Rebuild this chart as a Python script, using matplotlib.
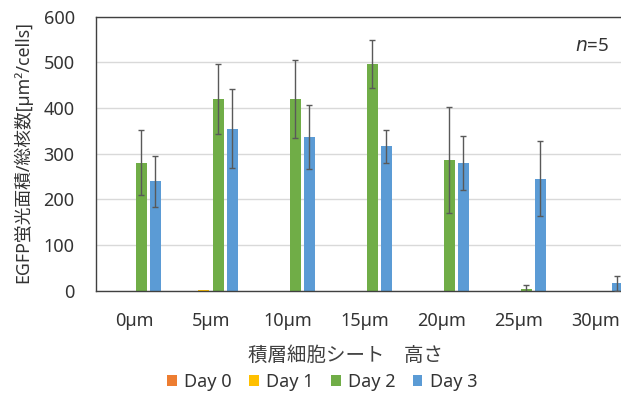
import numpy as np
import matplotlib
matplotlib.use("Agg")
import matplotlib.pyplot as plt
from matplotlib.patches import Patch

plt.rcParams['font.family'] = ['Noto Sans', 'Noto Sans CJK JP', 'DejaVu Sans']

# data
heights = ["0µm", "5µm", "10µm", "15µm", "20µm", "25µm", "30µm"]
series = ["Day 0", "Day 1", "Day 2", "Day 3"]
day0 = [0, 0, 0, 0, 0, 0, 0]
day1 = [0, 1, 0, 0, 0, 0, 0]
day2 = [280, 420, 420, 496, 286, 5, 0]
day3 = [240, 355, 336, 316, 279, 245, 16]
day0_err = [0, 0, 0, 0, 0, 0, 0]
day1_err = [0, 0, 0, 0, 0, 0, 0]
day2_err = [71, 77, 85, 52, 116, 8, 0]
day3_err = [56, 86, 70, 37, 59, 82, 17]
colors = ["#ED7D31", "#FFC000", "#70AD47", "#5B9BD5"]

values = [day0, day1, day2, day3]
errors = [day0_err, day1_err, day2_err, day3_err]

fig = plt.figure(figsize=(6.21, 3.95), dpi=100)
ax = fig.add_axes([95.5 / 621, 104.2 / 395, 539 / 621, 274.1 / 395])

x = np.arange(len(heights))
slot = 0.182
width = 0.143
for i, (vals, errs, c) in enumerate(zip(values, errors, colors)):
    pos = x + (i - 1.5) * slot
    ax.bar(pos, vals, width=width, color=c, zorder=2)
    show = np.array(errs) > 0
    ax.errorbar(pos[show], np.array(vals)[show], yerr=np.array(errs)[show],
                fmt='none', ecolor='#595959', elinewidth=1.0, capsize=2.5,
                capthick=1.0, zorder=3)

ax.set_xlim(-0.5, len(heights) - 0.5)
ax.set_ylim(0, 600)
ax.set_yticks(range(0, 601, 100))
ax.set_xticks(x)
ax.set_xticklabels(heights)
ax.tick_params(axis='both', length=0, labelsize=13, colors='#333333')
ax.tick_params(axis='x', pad=15)
ax.tick_params(axis='y', pad=15)
ax.yaxis.grid(True, color='#D9D9D9', linewidth=1, zorder=0)
ax.set_axisbelow(True)
for side in ['top', 'left', 'bottom', 'right']:
    ax.spines[side].set_color('#404040')
    ax.spines[side].set_linewidth(1.0)

fig.text(23 / 621, 1 - 152 / 395, "EGFP蛍光面積/総核数[µm²/cells]", rotation=90,
         ha='center', va='center', fontsize=12.8, color='#333333')
fig.text(346 / 621, 1 - 356 / 395, "積層細胞シート　高さ", ha='center', va='center',
         fontsize=14, color='#404040')
fig.text(592 / 621, 1 - 46 / 395, "$n$=5", ha='center', va='center',
         fontsize=13.5, color='#333333')

handles = [Patch(facecolor=c, edgecolor='none') for c in colors]
fig.legend(handles, series, loc='center', bbox_to_anchor=(322 / 621, 1 - 382 / 395),
           ncol=4, frameon=False, fontsize=13, handlelength=0.55, handleheight=0.55,
           handletextpad=0.4, columnspacing=0.95, labelcolor='#333333')

fig.savefig("out.png", dpi=100)
